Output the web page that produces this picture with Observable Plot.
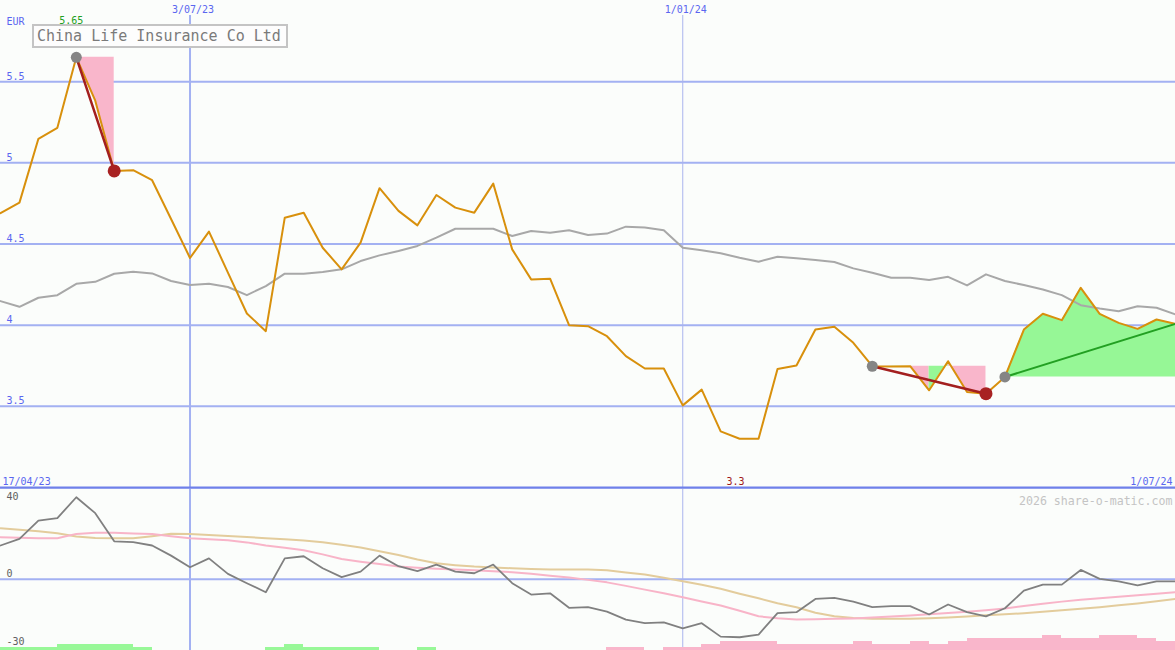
<!DOCTYPE html>
<html><head><meta charset="utf-8">
<script src="https://cdn.jsdelivr.net/npm/d3@7"></script>
<script src="https://cdn.jsdelivr.net/npm/@observablehq/plot@0.6"></script>
<style>
body{margin:0;background:#fbfdfb;}
#chart{position:relative;width:1175px;height:650px;background:#fbfdfb;overflow:hidden}
#chart svg{display:block}
#title{position:absolute;left:32px;top:24px;width:249px;height:20px;border:2px solid #c4c4c4;background:#fdfdfd;color:#7a7a7a;font:15px "DejaVu Sans Mono",monospace;line-height:20px;padding-left:3px;white-space:nowrap}
</style></head><body>
<div id="chart"><div id="title"></div></div>
<script>
// ---------- data ----------
const title = "China Life Insurance Co Ltd";
const currency = "EUR";
const watermark = "2026 share-o-matic.com";
const startLabel = "17/04/23";
const endLabel = "1/07/24";
const firstWeek = Date.UTC(2023, 3, 24);
const weekCount = 63;
const dateTicks = [new Date(Date.UTC(2023, 6, 3)), new Date(Date.UTC(2024, 0, 1))];
const dateTickLabels = ["3/07/23", "1/01/24"];
const yTicks = [3.5, 4, 4.5, 5, 5.5];
const yTickLabels = ["3.5", "4", "4.5", "5", "5.5"];
const lowTicks = [40, 0, -30];

const price = [4.69, 4.755, 5.148, 5.216, 5.65, 5.383, 4.95, 4.955, 4.893, 4.654,
  4.414, 4.576, 4.324, 4.072, 3.963, 4.662, 4.693, 4.477, 4.344, 4.508,
  4.844, 4.704, 4.615, 4.802, 4.724, 4.693, 4.872, 4.467, 4.282, 4.286,
  4.0, 3.994, 3.932, 3.809, 3.733, 3.733, 3.506, 3.603, 3.346, 3.30,
  3.30, 3.73, 3.751, 3.973, 3.99, 3.891, 3.747, 3.745, 3.747, 3.599,
  3.778, 3.588, 3.578, 3.681, 3.973, 4.07, 4.031, 4.23, 4.07, 4.014,
  3.977, 4.035, 4.008];

const movingAvg = [4.148, 4.113, 4.169, 4.185, 4.255, 4.267, 4.317, 4.329, 4.319, 4.272,
  4.247, 4.255, 4.235, 4.185, 4.241, 4.317, 4.317, 4.327, 4.344, 4.395,
  4.430, 4.457, 4.488, 4.539, 4.594, 4.594, 4.594, 4.549, 4.580, 4.570,
  4.585, 4.556, 4.564, 4.607, 4.601, 4.585, 4.477, 4.461, 4.443, 4.415,
  4.391, 4.422, 4.412, 4.401, 4.389, 4.350, 4.323, 4.292, 4.292, 4.278,
  4.298, 4.245, 4.313, 4.272, 4.247, 4.220, 4.185, 4.123, 4.103, 4.086,
  4.117, 4.107, 4.066];

const oscillator = [16.3, 19.5, 28.3, 29.5, 39.6, 31.9, 18.3, 17.9, 16.3, 11.4,
  5.8, 10.1, 2.6, -1.9, -6.3, 10.1, 11.1, 5.3, 1.0, 3.7,
  11.4, 6.3, 3.9, 7.1, 3.7, 2.9, 7.1, -1.9, -7.4, -6.8,
  -13.8, -13.5, -15.6, -19.5, -21.2, -20.8, -23.7, -21.2, -27.7, -28.0,
  -26.7, -16.4, -15.9, -9.5, -9.0, -10.8, -13.5, -13.0, -13.0, -17.0,
  -12.2, -15.9, -17.9, -14.0, -5.5, -2.6, -2.6, 4.5, 0.2, -1.0,
  -3.0, -1.0, -1.0];

const oscPink = [20.3, 20.0, 19.8, 19.8, 21.9, 22.4, 22.4, 22.1, 21.9, 20.8,
  19.8, 19.3, 18.8, 17.8, 16.3, 15.2, 14.0, 12.0, 9.8, 8.5,
  7.4, 6.2, 5.6, 5.1, 4.7, 4.3, 3.9, 3.4, 2.6, 1.7,
  0.9, -0.3, -1.5, -3.2, -5.0, -6.8, -8.7, -10.7, -12.7, -15.2,
  -17.9, -18.8, -19.4, -19.3, -19.1, -18.9, -18.5, -18.0, -17.5, -16.9,
  -16.3, -15.7, -15.0, -14.1, -12.9, -11.8, -10.8, -9.9, -9.2, -8.5,
  -7.7, -7.0, -6.3];

const oscTan = [24.6, 23.9, 23.2, 22.2, 20.6, 19.9, 19.8, 19.8, 20.8, 22.0,
  21.8, 21.4, 20.9, 20.4, 19.8, 19.3, 18.7, 17.9, 16.7, 15.3,
  13.5, 11.7, 9.5, 7.7, 6.8, 6.1, 5.7, 5.3, 5.0, 4.7,
  4.7, 4.7, 4.3, 3.3, 2.3, 0.7, -1.0, -2.7, -4.6, -7.0,
  -9.2, -11.6, -13.5, -16.2, -17.9, -18.7, -19.1, -19.1, -19.1, -18.8,
  -18.5, -18.0, -17.4, -16.9, -16.4, -15.7, -15.0, -14.3, -13.5, -12.6,
  -11.7, -10.6, -9.5];

// histogram levels per week (positive = green, negative = pink)
const barLevels = [1, 1, 1, 2, 2, 2, 2, 1, 0, 0,
  0, 0, 0, 0, 1, 2, 1, 1, 1, 1,
  0, 0, 1, 0, 0, 0, 0, 0, 0, 0,
  0, 0, -1, -1, 0, -1, -1, -2, -3, -3,
  -3, -2, -2, -2, -2, -3, -2, -2, -3, -2,
  -3, -4, -4, -4, -4, -5, -4, -4, -5, -5,
  -4, -3];

// highlighted moves (start week index, end week index)
const moveStarts = [4, 46, 53];
const moveEnds = [6, 52, 62];
const moveKinds = ["drop", "drop", "rise"];

// ---------- build ----------
const weeks = d3.range(weekCount).map(i => new Date(firstWeek + i * 7 * 864e5));
const rows = weeks.map((date, i) => ({date, price: price[i], ma: movingAvg[i],
  osc: oscillator[i], pink: oscPink[i], tan: oscTan[i]}));

// shaded runs between the price line and the starting level of each move
const segs = [], moveLines = [], startDots = [], endDots = [];
let runId = 0;
moveStarts.forEach((s, k) => {
  const e = moveEnds[k], kind = moveKinds[k], level = price[s];
  let prevColor = null;
  for (let i = s; i < e; i++) {
    const up = price[i + 1] > price[i];
    const color = kind === "rise" || up ? "green" : "pink";
    if (color !== prevColor) {
      runId++;
      segs.push({id: runId, color, date: weeks[i], level, p: price[i]});
      prevColor = color;
    }
    segs.push({id: runId, color, date: weeks[i + 1], level, p: price[i + 1]});
  }
  moveLines.push({k, kind, date: weeks[s], p: price[s]}, {k, kind, date: weeks[e], p: price[e]});
  startDots.push({date: weeks[s], p: price[s]});
  if (kind === "drop") endDots.push({date: weeks[e], p: price[e]});
});

const iMax = d3.maxIndex(price), iMin = d3.minIndex(price);
const fmt = d3.format(".3~g");

const bg = "#fbfdfb";
const gridBlue = "#a3b1f2";
const textBlue = "#5a66f0";
const sepBlue = "#6f80ea";
const thinLine = "#aab4ee";
const font = "DejaVu Sans Mono";
const xDomain = [weeks[0], weeks[weekCount - 1]];
const lowDomain = [-34.4, 44.3];
const barStep = 1.449;

const pricePlot = Plot.plot({
  width: 1175, height: 487, margin: 0,
  x: {type: "utc", domain: xDomain, axis: null},
  y: {domain: [3, 6], axis: null},
  style: {background: bg, fontFamily: font, overflow: "visible"},
  marks: [
    Plot.ruleY(yTicks, {stroke: gridBlue, strokeWidth: 2}),
    Plot.ruleX([dateTicks[0]], {stroke: gridBlue, strokeWidth: 2, insetTop: 15}),
    Plot.ruleX([dateTicks[1]], {stroke: thinLine, strokeWidth: 1, insetTop: 15}),
    Plot.areaY(segs.filter(d => d.color === "pink"), {x: "date", y1: "level", y2: "p", z: "id", fill: "#f9b6cb"}),
    Plot.areaY(segs.filter(d => d.color === "green"), {x: "date", y1: "level", y2: "p", z: "id", fill: "#96f796"}),
    Plot.line(rows, {x: "date", y: "ma", stroke: "#a8a8a8", strokeWidth: 2}),
    Plot.line(rows, {x: "date", y: "price", stroke: "#d8900c", strokeWidth: 2}),
    Plot.line(moveLines.filter(d => d.kind === "drop"), {x: "date", y: "p", z: "k", stroke: "#a31f1f", strokeWidth: 2.5}),
    Plot.line(moveLines.filter(d => d.kind === "rise"), {x: "date", y: "p", z: "k", stroke: "#22a022", strokeWidth: 2}),
    Plot.dot(startDots, {x: "date", y: "p", r: 5.5, fill: "#858585", stroke: "none"}),
    Plot.dot(endDots, {x: "date", y: "p", r: 6.5, fill: "#a82222", stroke: "none"}),
    Plot.ruleY([3], {stroke: sepBlue, strokeWidth: 2}),
    Plot.text(yTicks, {x: xDomain[0], y: d => d, text: (d, i) => yTickLabels[i], textAnchor: "start", lineAnchor: "bottom", dx: 6, dy: -2, fill: textBlue, fontSize: 10, fontFamily: font}),
    Plot.text([currency], {frameAnchor: "top-left", dx: 6, dy: 17, fill: textBlue, fontSize: 10, fontFamily: font}),
    Plot.text(dateTicks, {x: d => d, text: (d, i) => dateTickLabels[i], frameAnchor: "top", dy: 5, dx: 3, lineAnchor: "top", fill: textBlue, fontSize: 10, fontFamily: font}),
    Plot.text([fmt(price[iMax])], {x: weeks[iMax], frameAnchor: "top", dy: 16, dx: -5, lineAnchor: "top", fill: "#22a022", fontSize: 10, fontFamily: font}),
    Plot.text([fmt(price[iMin])], {x: weeks[iMin], frameAnchor: "bottom", dy: -3, dx: -4, lineAnchor: "bottom", fill: "#a01818", fontSize: 10, fontFamily: font}),
    Plot.text([startLabel], {frameAnchor: "bottom-left", dx: 2, dy: -3, lineAnchor: "bottom", fill: textBlue, fontSize: 10, fontFamily: font}),
    Plot.text([endLabel], {frameAnchor: "bottom-right", dx: -3, dy: -3, lineAnchor: "bottom", fill: textBlue, fontSize: 10, fontFamily: font})
  ]
});

const bars = barLevels.map((lvl, i) => ({lvl, x1: weeks[i], x2: weeks[i + 1],
  y1: lowDomain[0], y2: lowDomain[0] + Math.abs(lvl) * barStep})).filter(d => d.lvl !== 0);

const oscPlot = Plot.plot({
  width: 1175, height: 163, margin: 0,
  x: {type: "utc", domain: xDomain, axis: null},
  y: {domain: lowDomain, axis: null},
  style: {background: bg, fontFamily: font},
  marks: [
    Plot.ruleY([0], {stroke: gridBlue, strokeWidth: 2}),
    Plot.ruleX([dateTicks[0]], {stroke: gridBlue, strokeWidth: 2}),
    Plot.ruleX([dateTicks[1]], {stroke: thinLine, strokeWidth: 1}),
    Plot.rect(bars.filter(d => d.lvl > 0), {x1: "x1", x2: "x2", y1: "y1", y2: "y2", fill: "#98f898", inset: 0, shapeRendering: "crispEdges"}),
    Plot.rect(bars.filter(d => d.lvl < 0), {x1: "x1", x2: "x2", y1: "y1", y2: "y2", fill: "#f9b6cb", inset: 0, shapeRendering: "crispEdges"}),
    Plot.line(rows, {x: "date", y: "tan", stroke: "#e3cc9c", strokeWidth: 2}),
    Plot.line(rows, {x: "date", y: "pink", stroke: "#f8b4c8", strokeWidth: 2}),
    Plot.line(rows, {x: "date", y: "osc", stroke: "#808080", strokeWidth: 1.8}),
    Plot.ruleY([lowDomain[1]], {stroke: sepBlue, strokeWidth: 2}),
    Plot.text(lowTicks.filter(d => d !== 0), {x: xDomain[0], y: d => d, text: d => String(d), textAnchor: "start", dx: 6, fill: "#606060", fontSize: 10, fontFamily: font}),
    Plot.text(lowTicks.filter(d => d === 0), {x: xDomain[0], y: d => d, text: d => String(d), textAnchor: "start", dx: 6, dy: -5, fill: "#606060", fontSize: 10, fontFamily: font}),
    Plot.text([watermark], {frameAnchor: "top-right", dx: -3, dy: 9, fill: "#c4c4c4", fontSize: 11.6, fontFamily: font})
  ]
});

const chart = document.getElementById("chart");
chart.insertBefore(oscPlot, chart.firstChild);
chart.insertBefore(pricePlot, oscPlot);
document.getElementById("title").textContent = title;
</script>
</body></html>
